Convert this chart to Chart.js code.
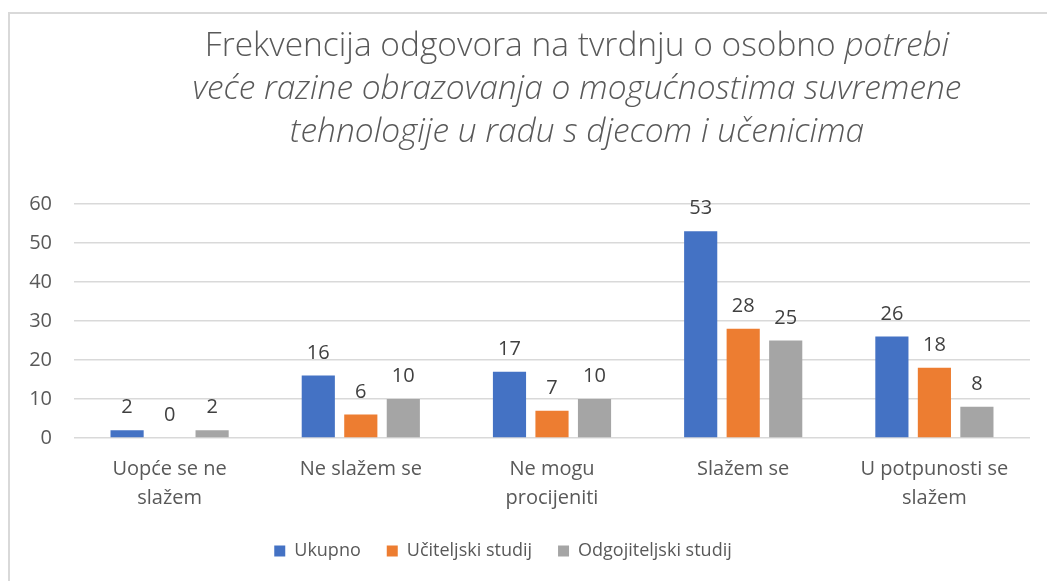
<!DOCTYPE html>
<html>
<head>
<meta charset="utf-8">
<script src="https://cdn.jsdelivr.net/npm/chart.js@4"></script>
<style>
  html, body { margin: 0; padding: 0; background: #fff; }
  #wrap { position: relative; width: 1047px; height: 581px; overflow: hidden; }
  #frame { position: absolute; left: 8px; top: 12px; width: 1100px; height: 700px;
           border-left: 2px solid #d9d9d9; border-top: 2px solid #d9d9d9; box-sizing: border-box; }
  #title { position: absolute; left: 77px; width: 1000px; top: 22px; text-align: center;
           font-family: "Open Sans", "Lato", sans-serif; font-weight: 300; font-size: 33.5px;
           line-height: 43px; color: #595959; }
  #title i { font-style: italic; }
  canvas { position: absolute; left: 0; top: 0; }
</style>
</head>
<body>
<div id="wrap">
  <div id="frame"></div>
  <canvas id="c" width="1047" height="581"></canvas>
  <div id="title">Frekvencija odgovora na tvrdnju o osobno <i>potrebi</i><br><i>veće razine obrazovanja o mogućnostima suvremene</i><br><i>tehnologije u radu s djecom i učenicima</i></div>
</div>
<script>
const categories = [["Uopće se ne", "slažem"], "Ne slažem se", ["Ne mogu", "procijeniti"], "Slažem se", ["U potpunosti se", "slažem"]];
const seriesNames = ["Ukupno", "Učiteljski studij", "Odgojiteljski studij"];
const ukupno = [2, 16, 17, 53, 26];
const uciteljski = [0, 6, 7, 28, 18];
const odgojiteljski = [2, 10, 10, 25, 8];
const yTicks = [0, 10, 20, 30, 40, 50, 60];
const colors = ["#4472c4", "#ed7d31", "#a5a5a5"];

const FONT = '"Open Sans", "Lato", sans-serif';

const valueLabels = {
  id: 'valueLabels',
  afterDatasetsDraw(chart) {
    const ctx = chart.ctx;
    ctx.save();
    ctx.font = '20px ' + FONT;
    ctx.fillStyle = '#404040';
    ctx.textAlign = 'center';
    ctx.textBaseline = 'alphabetic';
    chart.data.datasets.forEach((ds, i) => {
      const meta = chart.getDatasetMeta(i);
      meta.data.forEach((bar, j) => {
        ctx.fillText(String(ds.data[j]), bar.x, bar.y - 17);
      });
    });
    ctx.restore();
  }
};

const legendShift = {
  id: 'legendShift',
  afterLayout(chart) {
    if (chart.legend) { chart.legend.left -= 17; chart.legend.right -= 17; }
  }
};

new Chart(document.getElementById('c'), {
  type: 'bar',
  data: {
    labels: categories,
    datasets: [
      { label: seriesNames[0], data: ukupno, backgroundColor: colors[0] },
      { label: seriesNames[1], data: uciteljski, backgroundColor: colors[1] },
      { label: seriesNames[2], data: odgojiteljski, backgroundColor: colors[2] }
    ]
  },
  options: {
    responsive: false,
    animation: false,
    devicePixelRatio: 1,
    categoryPercentage: 0.667,
    barPercentage: 0.78,
    layout: { padding: { top: 204, left: 10, right: 17, bottom: 11 } },
    plugins: {
      title: { display: false },
      tooltip: { enabled: false },
      legend: {
        position: 'bottom',
        labels: {
          boxWidth: 11, boxHeight: 11, padding: 26,
          color: '#595959',
          font: { family: FONT, size: 18 }
        }
      }
    },
    scales: {
      x: {
        grid: { display: false },
        border: { display: false },
        afterFit(scale) { scale.height -= 6; },
        ticks: { color: '#595959', font: { family: FONT, size: 20, lineHeight: 1.45 }, padding: 9, maxRotation: 0 }
      },
      y: {
        min: 0, max: 60,
        afterBuildTicks(scale) { scale.ticks = yTicks.map(v => ({ value: v })); },
        afterFit(scale) { scale.width = 64; },
        grid: { color: '#d9d9d9', lineWidth: 1.5, drawTicks: false },
        border: { display: false },
        ticks: { color: '#595959', font: { family: FONT, size: 20 }, padding: 22 }
      }
    }
  },
  plugins: [valueLabels, legendShift]
});
</script>
</body>
</html>
